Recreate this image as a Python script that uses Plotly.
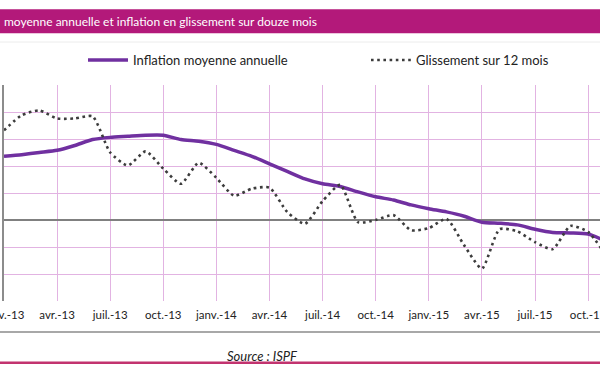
import plotly.graph_objects as go

# ---- data ----
months = list(range(35))  # janv.-13 ... nov.-15 (monthly index)
tick_pos = [0, 3, 6, 9, 12, 15, 18, 21, 24, 27, 30, 33]
tick_labels = ["janv.-13", "avr.-13", "juil.-13", "oct.-13", "janv.-14", "avr.-14",
               "juil.-14", "oct.-14", "janv.-15", "avr.-15", "juil.-15", "oct.-15"]

inflation_moyenne = [1.18, 1.21, 1.25, 1.29, 1.38, 1.49, 1.53, 1.55, 1.57, 1.57,
                     1.49, 1.46, 1.40, 1.29, 1.18, 1.04, 0.90, 0.76, 0.67, 0.62,
                     0.52, 0.43, 0.37, 0.28, 0.21, 0.15, 0.07, -0.04, -0.06, -0.09,
                     -0.17, -0.23, -0.24, -0.26, -0.39]
glissement_12m = [1.66, 1.94, 2.03, 1.88, 1.88, 1.92, 1.25, 1.01, 1.27, 0.95,
                  0.67, 1.06, 0.78, 0.45, 0.58, 0.60, 0.15, -0.07, 0.35, 0.65,
                  -0.04, 0.00, 0.09, -0.19, -0.15, 0.02, -0.47, -0.90, -0.17, -0.21,
                  -0.41, -0.54, -0.11, -0.22, -0.65]

title_text = "moyenne annuelle et inflation en glissement sur douze mois"
source_text = "Source : ISPF"

# ---- geometry helpers ----
W, H = 600, 372
L, R, T, B = 4, 0, 85, 71
PW, PH = W - L - R, H - T - B
def px(x):
    return (x - L) / PW
def py(y):
    return (H - B - y) / PH

FONT = "Lato"
fig = go.Figure()
fig.add_trace(go.Scatter(
    x=months, y=inflation_moyenne, name="Inflation moyenne annuelle",
    mode="lines", line=dict(color="#7030a0", width=3.5, shape="spline", smoothing=0.6),
    legend="legend"))
fig.add_trace(go.Scatter(
    x=months, y=glissement_12m, name="Glissement sur 12 mois",
    mode="lines", line=dict(color="#3c3c3c", width=2.6, dash="2.6px,3.6px", shape="spline", smoothing=0.6),
    legend="legend2"))

fig.update_layout(
    width=W, height=H, margin=dict(l=L, r=R, t=T, b=B, autoexpand=False),
    paper_bgcolor="white", plot_bgcolor="white",
    font=dict(family=FONT, size=11, color="#222222"),
    showlegend=True,
    legend=dict(orientation="h", x=px(83), y=py(60), xanchor="left", yanchor="middle",
                font=dict(family=FONT, size=13, color="#222222"), itemwidth=40,
                bgcolor="rgba(0,0,0,0)"),
    legend2=dict(orientation="h", x=px(366), y=py(60), xanchor="left", yanchor="middle",
                 font=dict(family=FONT, size=13, color="#222222"), itemwidth=40,
                 bgcolor="rgba(0,0,0,0)"),
    xaxis=dict(range=[0, (W - L - R) / 17.7], tickvals=tick_pos, ticktext=tick_labels,
               showgrid=True, gridcolor="#e2b3e2", gridwidth=1, zeroline=False,
               showline=False, ticks="", ticklabeloverflow="allow", ticklabelstandoff=5,
               tickfont=dict(family=FONT, size=11.5, color="#222222")),
    yaxis=dict(range=[-1.5, 2.5], dtick=0.5, showgrid=True, gridcolor="#e2b3e2", gridwidth=1,
               zeroline=True, zerolinecolor="#808080", zerolinewidth=1.5,
               showline=True, linecolor="#8c8c8c", linewidth=1.5,
               showticklabels=False, ticks=""),
)

shapes = [
    # title banner
    dict(type="rect", xref="paper", yref="paper", x0=px(-5), x1=px(605), y0=py(33.3), y1=py(9.3),
         fillcolor="#b3197a", line=dict(width=0), layer="below"),
    # faint frame top line
    dict(type="line", xref="paper", yref="paper", x0=px(0), x1=px(600), y0=py(42), y1=py(42),
         line=dict(color="#ececec", width=1)),
    # frame bottom line
    dict(type="line", xref="paper", yref="paper", x0=px(0), x1=px(600), y0=py(332), y1=py(332),
         line=dict(color="#a8a8a8", width=2)),
    # magenta rule at the bottom
    dict(type="line", xref="paper", yref="paper", x0=px(0), x1=px(600), y0=py(362.8), y1=py(362.8),
         line=dict(color="#c2336f", width=2.5)),
]
fig.update_layout(shapes=shapes)

fig.add_annotation(text=title_text, xref="paper", yref="paper", x=px(2), y=py(21.5),
                   xanchor="left", yanchor="middle", showarrow=False,
                   font=dict(family=FONT, size=12, color="white"))
fig.add_annotation(text="<i>" + source_text + "</i>", xref="paper", yref="paper", x=px(262), y=py(356),
                   xanchor="center", yanchor="middle", showarrow=False,
                   font=dict(family=FONT, size=13, color="#222222"))

fig.write_html("out.html", config={"displayModeBar": False},
               post_script="document.body.style.margin='0';document.body.style.overflow='hidden';")
